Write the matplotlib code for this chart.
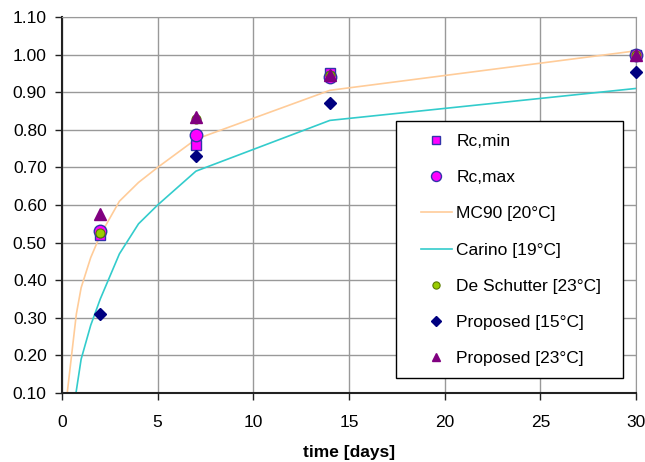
import matplotlib
matplotlib.use("Agg")
import matplotlib.pyplot as plt
from matplotlib.patches import Rectangle

plt.rcParams['font.family'] = ['Liberation Sans', 'DejaVu Sans']

# measured points
days_pts = [2, 7, 14, 30]
rc_min = [0.52, 0.76, 0.95, 1.00]
rc_max = [0.53, 0.785, 0.94, 1.00]
de_schutter = [0.525, 0.83, 0.945, 1.00]
proposed_15 = [0.31, 0.73, 0.87, 0.955]
proposed_23 = [0.575, 0.835, 0.945, 1.00]

# model curves
mc90_days = [0.25, 0.5, 0.75, 1, 1.5, 2, 3, 4, 5, 7, 14, 30]
mc90_vals = [0.09, 0.20, 0.31, 0.38, 0.46, 0.52, 0.61, 0.66, 0.70, 0.775, 0.905, 1.01]
carino_days = [0.7, 1, 1.5, 2, 3, 4, 5, 7, 14, 30]
carino_vals = [0.09, 0.19, 0.28, 0.35, 0.47, 0.55, 0.60, 0.69, 0.825, 0.91]

xticks = [0, 5, 10, 15, 20, 25, 30]
yticks = [0.10, 0.20, 0.30, 0.40, 0.50, 0.60, 0.70, 0.80, 0.90, 1.00, 1.10]

FS = 12.5

fig = plt.figure(figsize=(6.45, 4.62), dpi=100)
ax = fig.add_axes([62/645, 1-393/462, 574/645, 376/462])

ax.plot(days_pts, rc_min, ls='none', marker='s', ms=7, mfc='#FF00FF', mec='#3333AA', mew=1, label='Rc,min', clip_on=False, zorder=3)
ax.plot(days_pts, rc_max, ls='none', marker='o', ms=9, mfc='#FF00FF', mec='#3333AA', mew=1, label='Rc,max', clip_on=False, zorder=3)
ax.plot(mc90_days, mc90_vals, color='#FFCC99', lw=1.2, label='MC90 [20°C]', zorder=2)
ax.plot(carino_days, carino_vals, color='#33CCCC', lw=1.2, label='Carino [19°C]', zorder=2)
ax.plot(days_pts, de_schutter, ls='none', marker='o', ms=6.5, mfc='#99CC00', mec='#5A7A00', mew=0.8, label='De Schutter [23°C]', clip_on=False, zorder=3)
ax.plot(days_pts, proposed_15, ls='none', marker='D', ms=6, mfc='#000080', mec='#000080', label='Proposed [15°C]', clip_on=False, zorder=3)
ax.plot(days_pts, proposed_23, ls='none', marker='^', ms=8, mfc='#800080', mec='#800080', label='Proposed [23°C]', clip_on=False, zorder=3)

ax.set_xlim(0, 30)
ax.set_ylim(0.10, 1.10)
ax.set_xticks(xticks)
ax.set_yticks(yticks)
ax.set_yticklabels([f'{v:.2f}' for v in yticks])
ax.grid(True, color='#999999', lw=1)
ax.set_axisbelow(True)
for s in ['top', 'right']:
    ax.spines[s].set_color('#999999')
for s in ['left', 'bottom']:
    ax.spines[s].set_color('#222222')
    ax.spines[s].set_linewidth(1.5)
ax.tick_params(axis='both', labelsize=FS, direction='out', length=5, color='#222222', width=1)
ax.tick_params(axis='y', pad=6)
ax.tick_params(axis='x', pad=11)
ax.set_xlabel('time [days]', fontsize=FS, fontweight='bold', labelpad=11)

# legend box
x0 = (396-62)/574
x1 = (623-62)/574
y1 = (393-121)/376
y0 = (393-378)/376
ax.add_patch(Rectangle((x0, y0), x1-x0, y1-y0, transform=ax.transAxes,
                       facecolor='white', edgecolor='black', lw=1, zorder=4, clip_on=False))

leg = ax.legend(loc='upper left', bbox_to_anchor=((421-62)/574, (393-134)/376), fontsize=FS,
                frameon=False, labelspacing=1.21, handlelength=1.78, borderpad=0,
                handletextpad=0.25, borderaxespad=0, numpoints=1, markerscale=0.8)
leg.set_zorder(5)

fig.savefig('out.png', dpi=100)
